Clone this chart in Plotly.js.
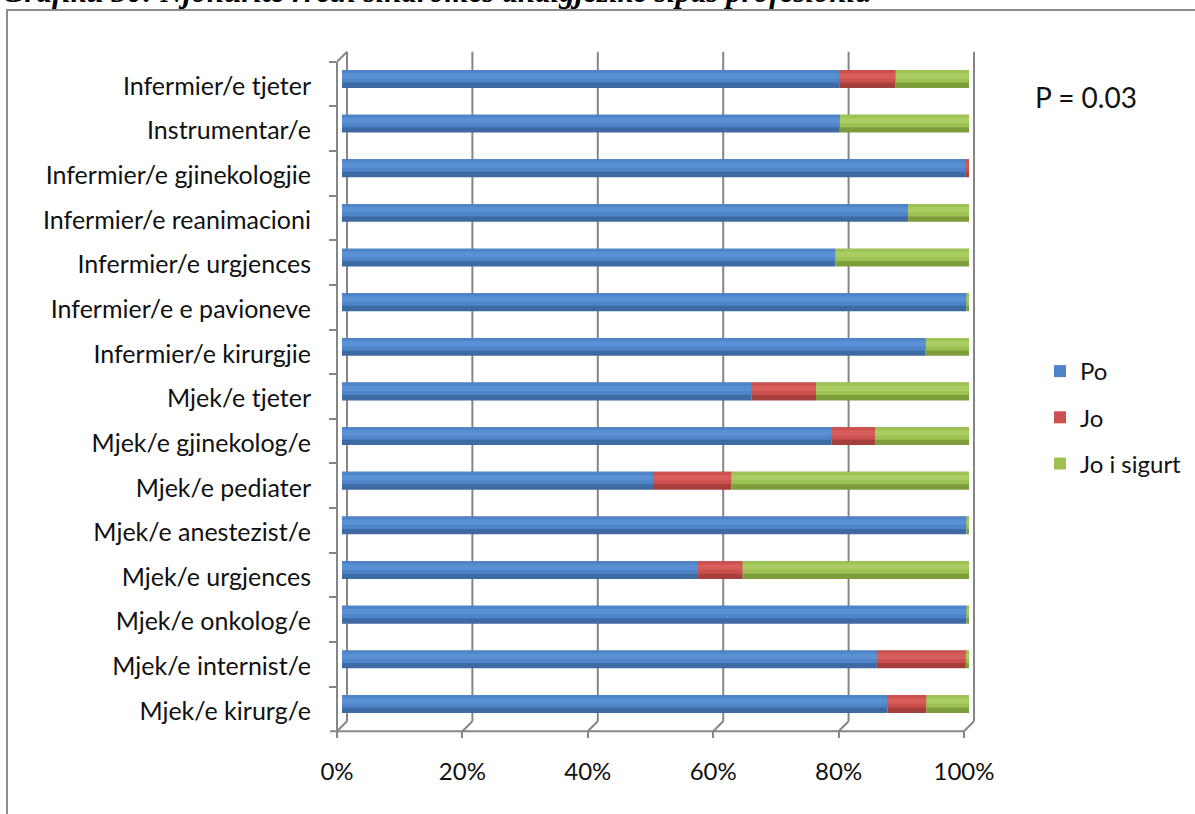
<!DOCTYPE html>
<html>
<head>
<meta charset="utf-8">
<script src="https://cdn.plot.ly/plotly-3.0.1.min.js"></script>
<style>
  html, body { margin: 0; padding: 0; background: #ffffff; }
  #chart { width: 1195px; height: 814px; }
</style>
</head>
<body>
<div id="chart"></div>
<script>
// Professions, listed from top to bottom
const categories = [
  'Infermier/e tjeter',
  'Instrumentar/e',
  'Infermier/e gjinekologjie',
  'Infermier/e reanimacioni',
  'Infermier/e urgjences',
  'Infermier/e e pavioneve',
  'Infermier/e kirurgjie',
  'Mjek/e tjeter',
  'Mjek/e gjinekolog/e',
  'Mjek/e pediater',
  'Mjek/e anestezist/e',
  'Mjek/e urgjences',
  'Mjek/e onkolog/e',
  'Mjek/e internist/e',
  'Mjek/e kirurg/e'
];

// Share of answers (%) per profession
const po        = [79.4, 79.4, 99.4, 90.3, 78.7, 99.6, 93.1, 65.3, 78.1, 49.6, 99.6, 56.8, 99.6, 85.3, 87.0];
const jo        = [ 8.9,  0.0,  0.6,  0.0,  0.0,  0.0,  0.0, 10.3,  6.9, 12.5,  0.0,  7.1,  0.0, 14.2,  6.2];
const joISigurt = [11.7, 20.6,  0.0,  9.7, 21.3,  0.4,  6.9, 24.4, 15.0, 37.9,  0.4, 36.1,  0.4,  0.5,  6.8];

const seriesNames = ['Po', 'Jo', 'Jo i sigurt'];
const tickValues = [0, 20, 40, 60, 80, 100];
const tickLabels = ['0%', '20%', '40%', '60%', '80%', '100%'];
const pValueText = 'P = 0.03';
const titleText = 'Grafiku 30: Njohuritë rreth sindromës analgjezike sipas profesionit.';

// ---- page geometry (pixels) ----
const W = 1195, H = 814;
const fx = p => p / W;
const fy = p => 1 - p / H;

const PX = 6.27;          // pixels per percentage point
const BAR0 = 342;         // pixel of 0% on the bar plane
const DX = 5, DY = 5;     // half depth of the 3-D box
const XL = 330, XR = 985; // extent of the bar x axis
const xRange = [(XL - BAR0) / PX, (XR - BAR0) / PX];
const ROW_TOP = 56.7, ROW_BOTTOM = 726.3;
const nCat = categories.length;
const catRange = [nCat - 0.5, -0.5];

const FONT = 'Lato, "Open Sans", sans-serif';
const TEXT = '#111111';
const AXIS_GREY = '#868686';

// cumulative starts of each stacked segment
const baseJo = po.map(v => v);
const baseJis = po.map((v, i) => v + jo[i]);
const seriesVals = [po, jo, joISigurt];
const seriesBase = [po.map(() => 0), baseJo, baseJis];

// three tones per series give the cylinder shading
const tones = [
  { dark: '#3E6AA3', mid: '#4F84C8', light: '#5A91D5' },
  { dark: '#A43F3C', mid: '#CC514E', light: '#D75E5B' },
  { dark: '#7D9D3B', mid: '#9DC253', light: '#A9CD62' }
];
const BAR_W = 0.40;

const traces = [];
// shadowed full-width cylinders
seriesVals.forEach((vals, s) => {
  traces.push({
    type: 'bar', orientation: 'h', name: seriesNames[s], legendgroup: seriesNames[s],
    showlegend: false, y: categories, x: vals, base: seriesBase[s],
    width: BAR_W, marker: { color: tones[s].dark, line: { width: 0 } },
    hoverinfo: 'skip'
  });
});
// lit upper band
seriesVals.forEach((vals, s) => {
  traces.push({
    type: 'bar', orientation: 'h', name: seriesNames[s], legendgroup: seriesNames[s],
    showlegend: true, y: categories, x: vals, base: seriesBase[s],
    width: 0.28, offset: -0.2,
    marker: { color: tones[s].mid, line: { width: 0 } },
    hovertemplate: '%{y}: %{x:.1f}%<extra>' + seriesNames[s] + '</extra>'
  });
});
// highlight stripe
seriesVals.forEach((vals, s) => {
  traces.push({
    type: 'bar', orientation: 'h', name: seriesNames[s], legendgroup: seriesNames[s],
    showlegend: false, y: categories, x: vals, base: seriesBase[s],
    width: 0.12, offset: -0.13,
    marker: { color: tones[s].light, line: { width: 0 } },
    hoverinfo: 'skip'
  });
});
// carrier for the front (label) axes
traces.push({
  type: 'scatter', mode: 'markers', x: categories.map(() => 0), y: categories,
  xaxis: 'x2', yaxis: 'y2', marker: { opacity: 0 }, showlegend: false, hoverinfo: 'skip'
});

const shapes = [];
// outer frame of the chart box
shapes.push({
  type: 'rect', xref: 'paper', yref: 'paper',
  x0: fx(7), x1: fx(1210), y0: fy(830), y1: fy(10),
  line: { color: '#8C8C8C', width: 2 }, fillcolor: 'rgba(0,0,0,0)', layer: 'below'
});
// back wall gridlines
tickValues.forEach(v => {
  shapes.push({
    type: 'line', xref: 'x', xsizemode: 'pixel', xanchor: v, x0: DX, x1: DX,
    yref: 'paper', y0: fy(ROW_BOTTOM - DY), y1: fy(ROW_TOP - DY),
    line: { color: AXIS_GREY, width: 2 }, layer: 'below'
  });
  // floor diagonals
  shapes.push({
    type: 'line', xref: 'x', xsizemode: 'pixel', xanchor: v, x0: -DX, x1: DX,
    yref: 'paper', ysizemode: 'pixel', yanchor: fy(ROW_BOTTOM + DY), y0: 0, y1: 2 * DY,
    line: { color: AXIS_GREY, width: 2 }, layer: 'below'
  });
});
// top-left wall diagonal
shapes.push({
  type: 'line', xref: 'x', xsizemode: 'pixel', xanchor: 0, x0: -DX, x1: DX,
  yref: 'paper', ysizemode: 'pixel', yanchor: fy(ROW_TOP + DY), y0: 0, y1: 2 * DY,
  line: { color: AXIS_GREY, width: 2 }, layer: 'below'
});
// front floor edge
shapes.push({
  type: 'line', xref: 'x2', x0: -7 / PX, x1: 100,
  yref: 'paper', y0: fy(ROW_BOTTOM + DY), y1: fy(ROW_BOTTOM + DY),
  line: { color: AXIS_GREY, width: 2 }, layer: 'below'
});

const layout = {
  width: W, height: H,
  margin: { l: 0, r: 0, t: 0, b: 0, pad: 0 },
  paper_bgcolor: '#ffffff', plot_bgcolor: 'rgba(0,0,0,0)',
  font: { family: FONT, size: 22, color: TEXT },
  barmode: 'overlay',
  xaxis: {
    domain: [fx(XL), fx(XR)], range: xRange, anchor: 'y',
    showticklabels: false, showgrid: false, zeroline: false, showline: false, ticks: '', fixedrange: true
  },
  yaxis: {
    domain: [fy(ROW_BOTTOM), fy(ROW_TOP)], anchor: 'x', type: 'category',
    categoryorder: 'array', categoryarray: categories, range: catRange,
    showticklabels: false, showgrid: false, zeroline: false, showline: false, ticks: '', fixedrange: true
  },
  // front plane: tick labels and category labels
  xaxis2: {
    domain: [fx(XL - DX), fx(XR - DX)], range: xRange, anchor: 'y2', side: 'bottom',
    tickmode: 'array', tickvals: tickValues, ticktext: tickLabels,
    ticks: 'outside', ticklen: 6, tickwidth: 2, tickcolor: AXIS_GREY,
    ticklabelstandoff: 13,
    tickfont: { family: FONT, size: 24, color: TEXT },
    showgrid: false, zeroline: false, showline: false, fixedrange: true
  },
  yaxis2: {
    domain: [fy(ROW_BOTTOM + DY), fy(ROW_TOP + DY)],
    anchor: 'free', position: fx(BAR0 - DX), side: 'left', type: 'category',
    categoryorder: 'array', categoryarray: categories, range: catRange,
    showline: true, linecolor: AXIS_GREY, linewidth: 2,
    ticks: 'outside', tickson: 'boundaries', ticklen: 7, tickwidth: 2, tickcolor: AXIS_GREY,
    ticklabelstandoff: 20, ticklabelshift: -2,
    tickfont: { family: FONT, size: 25, color: TEXT },
    showgrid: false, zeroline: false, fixedrange: true
  },
  showlegend: true,
  legend: {
    x: fx(1040), y: fy(349), xanchor: 'left', yanchor: 'top',
    traceorder: 'grouped', tracegroupgap: 12,
    font: { family: FONT, size: 24, color: TEXT },
    bgcolor: 'rgba(0,0,0,0)'
  },
  shapes: shapes,
  annotations: [
    {
      text: titleText, xref: 'paper', yref: 'paper', x: 0, y: fy(11),
      xanchor: 'left', yanchor: 'bottom', showarrow: false,
      font: { family: '"Liberation Serif", "DejaVu Serif", serif', size: 31, weight: 'bold', style: 'italic', color: '#000' }
    },
    {
      text: pValueText, xref: 'paper', yref: 'paper', x: fx(1086), y: fy(97),
      xanchor: 'center', yanchor: 'middle', showarrow: false,
      font: { family: FONT, size: 28, color: TEXT }
    }
  ]
};

Plotly.newPlot('chart', traces, layout, { displayModeBar: false, staticPlot: true });
</script>
</body>
</html>
